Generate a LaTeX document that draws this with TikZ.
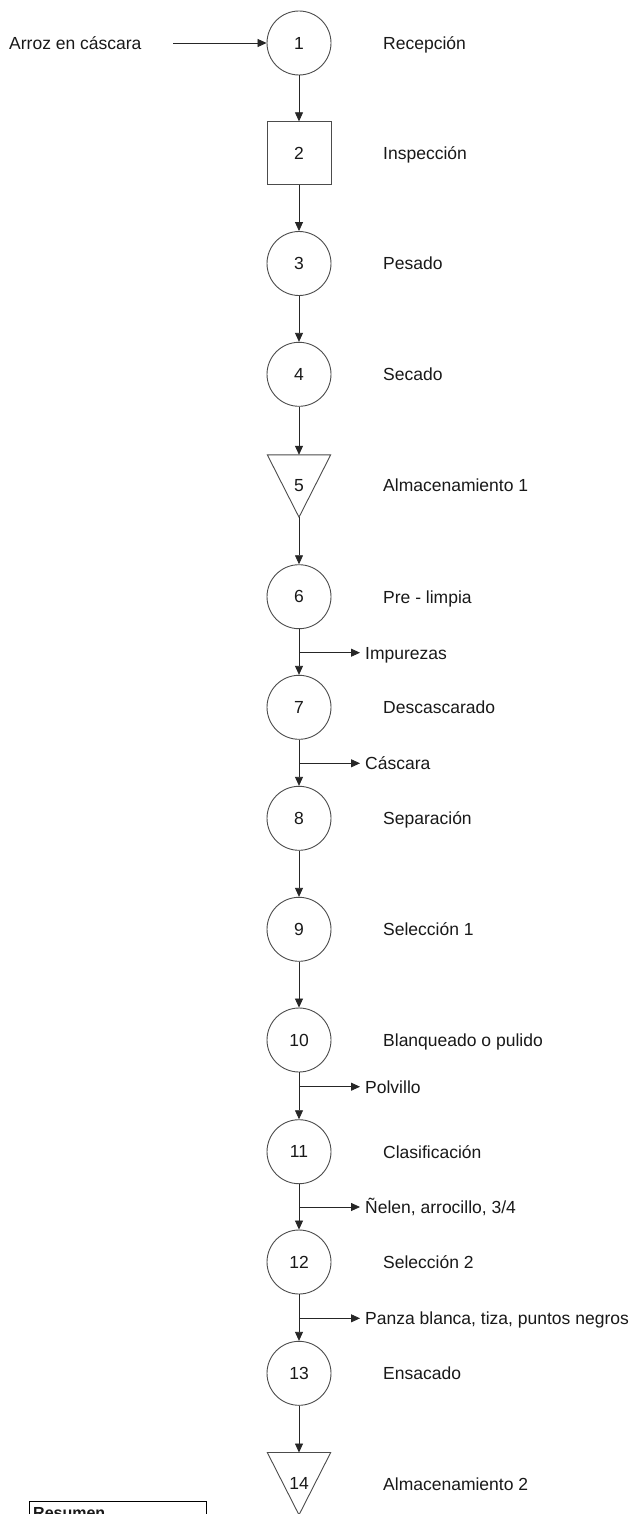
\documentclass[tikz,border=0pt]{standalone}
\usepackage{fontspec}
\setmainfont{Liberation Sans}
\usetikzlibrary{arrows.meta}
\begin{document}
\begin{tikzpicture}[x=1pt,y=-1pt,
  every node/.style={font=\fontsize{17.5}{21}\selectfont, text=black!90},
  shapeline/.style={draw=black!70, line width=0.9pt},
  proc/.style={shapeline, circle, minimum size=64pt, inner sep=0pt},
  insp/.style={shapeline, rectangle, minimum width=64pt, minimum height=63pt, inner sep=0pt},
  stor/.style={rectangle, minimum width=63pt, minimum height=62pt, inner sep=0pt},
  lbl/.style={anchor=base west, inner sep=0pt},
  flow/.style={draw=black!85, line width=0.8pt, -{Triangle[length=9pt,width=8pt]}}
]
\useasboundingbox (0,0) rectangle (634,1514);
\clip (0,0) rectangle (634,1514);
\fill[white] (0,0) rectangle (634,1514);

% main column
\node[proc] (c1) at (299,43) {1};
\node[insp] (c2) at (299,153.3) {2};
\node[proc] (c3) at (299,263.5) {3};
\node[proc] (c4) at (299,374.3) {4};
\node[stor] (c5) at (299,486) {5};
\draw[shapeline] (c5.north west) -- (c5.north east) -- (c5.south) -- cycle;
\node[proc] (c6) at (299,596.7) {6};
\node[proc] (c7) at (299,707.3) {7};
\node[proc] (c8) at (299,818.3) {8};
\node[proc] (c9) at (299,929.3) {9};
\node[proc] (c10) at (299,1040) {10};
\node[proc] (c11) at (299,1151.7) {11};
\node[proc] (c12) at (299,1262) {12};
\node[proc] (c13) at (299,1373.3) {13};
\node[stor] (c14) at (299,1483.7) {14};
\draw[shapeline] (c14.north west) -- (c14.north east) -- (c14.south) -- cycle;

% step labels
\node[lbl] (l1) at (383,49.3) {Recepción};
\node[lbl] (l2) at (383,159.6) {Inspección};
\node[lbl] (l3) at (383,269.8) {Pesado};
\node[lbl] (l4) at (383,380.6) {Secado};
\node[lbl] (l5) at (383,491.3) {Almacenamiento 1};
\node[lbl] (l6) at (383,603) {Pre - limpia};
\node[lbl] (l7) at (383,713.6) {Descascarado};
\node[lbl] (l8) at (383,824.6) {Separación};
\node[lbl] (l9) at (383,935.6) {Selección 1};
\node[lbl] (l10) at (383,1046.3) {Blanqueado o pulido};
\node[lbl] (l11) at (383,1158) {Clasificación};
\node[lbl] (l12) at (383,1268.3) {Selección 2};
\node[lbl] (l13) at (383,1379.6) {Ensacado};
\node[lbl] (l14) at (383,1490) {Almacenamiento 2};

% input
\node[lbl] (in) at (9,49.3) {Arroz en cáscara};
\coordinate (a0) at (173,43);
\draw[flow] (a0) -- (c1);

% main flow
\draw[flow] (c1) -- (c2);
\draw[flow] (c2) -- (c3);
\draw[flow] (c3) -- (c4);
\draw[flow] (c4) -- (c5);
\draw[flow] (c5.south) -- (c6);
\draw[flow] (c6) -- (c7);
\draw[flow] (c7) -- (c8);
\draw[flow] (c8) -- (c9);
\draw[flow] (c9) -- (c10);
\draw[flow] (c10) -- (c11);
\draw[flow] (c11) -- (c12);
\draw[flow] (c12) -- (c13);
\draw[flow] (c13) -- (c14);

% side outputs
\coordinate (b6) at (299,652.7);  \coordinate (e6) at (360,652.7);
\coordinate (b7) at (299,763.3);  \coordinate (e7) at (360,763.3);
\coordinate (b10) at (299,1086.7); \coordinate (e10) at (360,1086.7);
\coordinate (b11) at (299,1207);  \coordinate (e11) at (360,1207);
\coordinate (b12) at (299,1318.3); \coordinate (e12) at (360,1318.3);
\draw[flow] (b6) -- (e6);
\draw[flow] (b7) -- (e7);
\draw[flow] (b10) -- (e10);
\draw[flow] (b11) -- (e11);
\draw[flow] (b12) -- (e12);
\node[lbl] (o6) at (365,659) {Impurezas};
\node[lbl] (o7) at (365,769.6) {Cáscara};
\node[lbl] (o10) at (365,1093) {Polvillo};
\node[lbl] (o11) at (365,1213.3) {Ñelen, arrocillo, 3/4};
\node[lbl] (o12) at (365,1324.6) {Panza blanca, tiza, puntos negros};

% summary box (cut at the bottom, as in the reference)
\node[draw=black, line width=0.8pt, anchor=north west, minimum width=177.5pt, minimum height=40pt, inner sep=0pt] (res) at (28.5,1500.7) {};
\node[lbl, font=\fontsize{16}{19}\selectfont\bfseries] (rest) at (33,1518) {Resumen};
\end{tikzpicture}
\end{document}
